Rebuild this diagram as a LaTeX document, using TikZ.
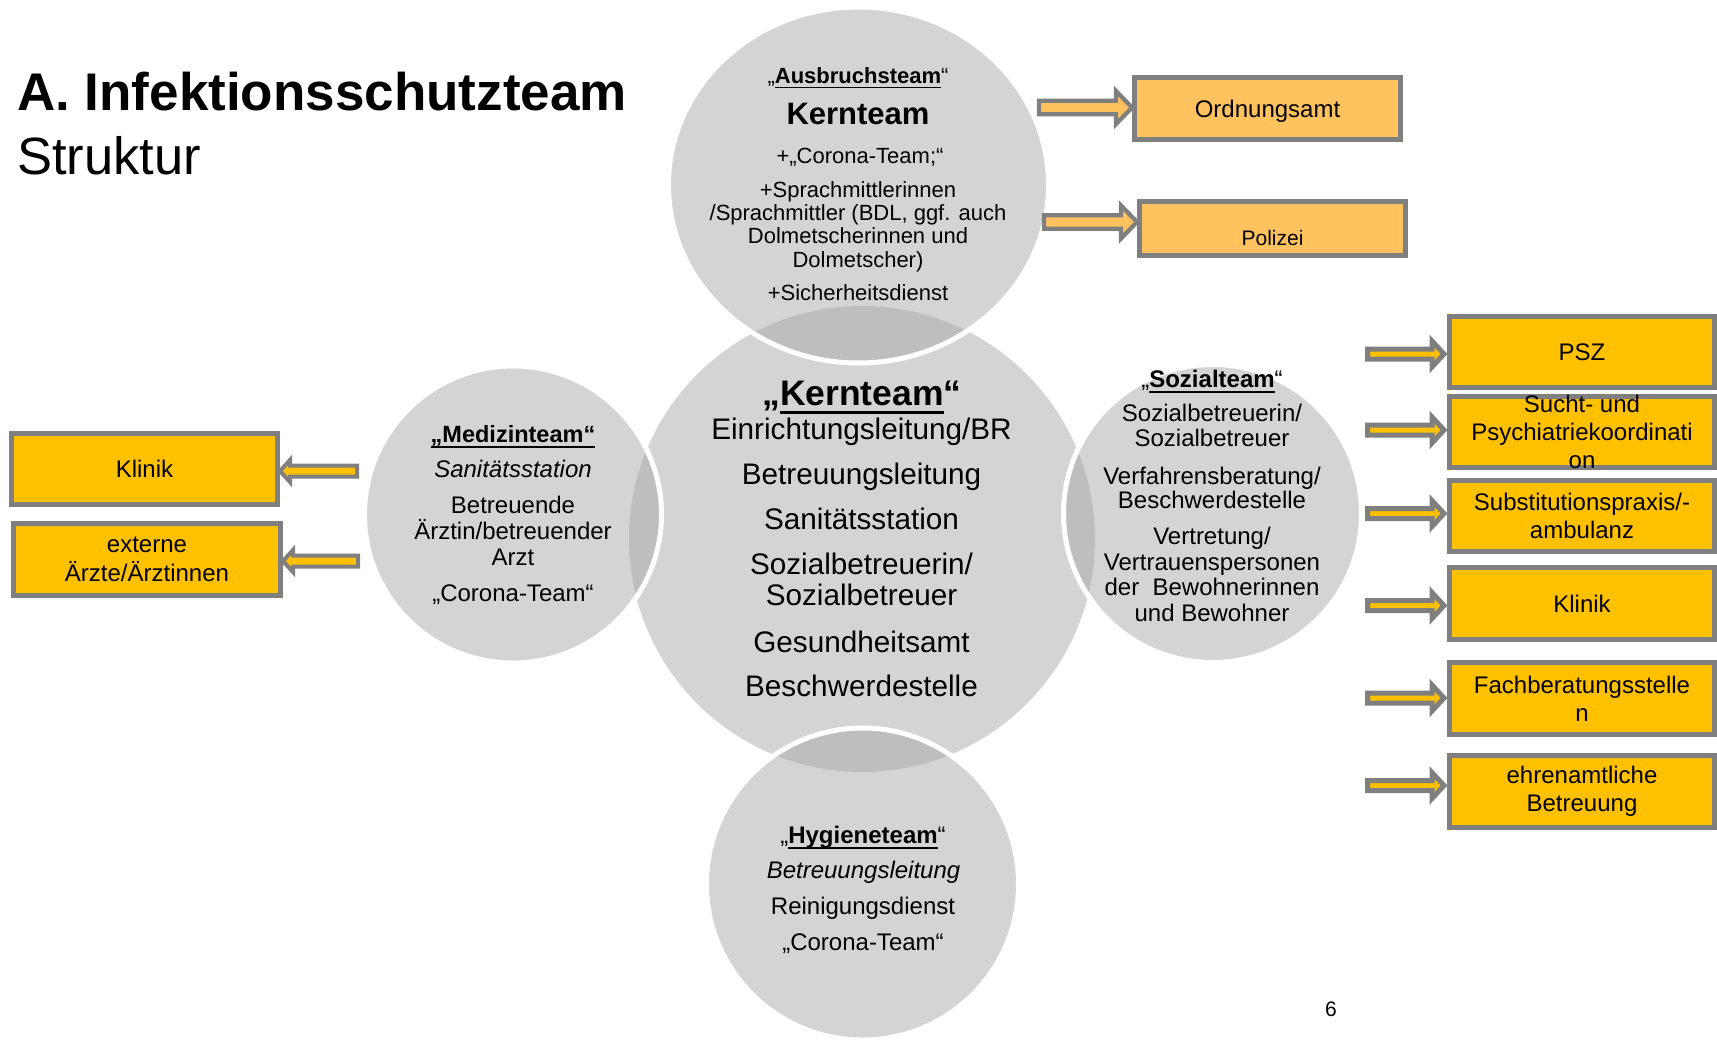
\documentclass[tikz,border=0pt]{standalone}
\usepackage{fontspec}
\setmainfont{Liberation Sans}
\usetikzlibrary{calc}
\definecolor{cgray}{RGB}{212,212,212}
\definecolor{ogray}{RGB}{190,190,190}
\definecolor{bgray}{RGB}{127,127,127}
\definecolor{gold}{RGB}{255,192,0}
\definecolor{lorange}{RGB}{255,194,94}
\newcommand\setfs[2]{\fontsize{#1}{#2}\selectfont}
\newsavebox\ulbox
\newcommand\myul[1]{\sbox\ulbox{#1}\rlap{\rule[-0.24em]{\wd\ulbox}{0.08em}}\usebox\ulbox}
% style, tail, tip, shaft half, head half, head length, operator (- for rightwards, + for leftwards)
\newcommand\blkarrow[7]{%
  \draw[#1] let \p1=(#2), \p2=(#3) in
    (\x1,\y1+#4) -- (\x2#7#6,\y1+#4) -- (\x2#7#6,\y1+#5) -- (\x2,\y1) --
    (\x2#7#6,\y1-#5) -- (\x2#7#6,\y1-#4) -- (\x1,\y1-#4) -- cycle;}
\begin{document}
\begin{tikzpicture}[x=1pt,y=-1pt,
  tx/.style={anchor=base,inner sep=0pt,align=center},
  boxA/.style={draw=bgray,line width=5pt,fill=lorange,minimum width=266pt,inner sep=0pt,align=center,font=\setfs{24}{27.5}},
  boxR/.style={draw=bgray,line width=5pt,fill=gold,minimum width=265pt,minimum height=71pt,inner sep=0pt,align=center,font=\setfs{24}{28.2}},
  boxL/.style={draw=bgray,line width=5pt,fill=gold,inner sep=0pt,align=center,font=\setfs{24}{29}},
  arrA/.style={draw=bgray,line width=4.3pt,fill=lorange,line join=miter,miter limit=10},
  arrR/.style={draw=bgray,line width=5pt,fill=gold,line join=miter,miter limit=10},
  arrL/.style={draw=bgray,line width=4pt,fill=gold,line join=miter,miter limit=10},
  sep/.style={white,line width=5pt}]
\path[use as bounding box] (0,0) rectangle (1717,1045);
\clip (0,0) rectangle (1717,1045);

% ---------- circles ----------
\coordinate (cK) at (862,539);
\coordinate (cA) at (858.5,185);
\coordinate (cM) at (513,514.5);
\coordinate (cS) at (1212.5,513.5);
\coordinate (cH) at (862.5,884);

\fill[cgray] (cK) circle (233pt);

\fill[cgray] (cA) ellipse [x radius=190pt,y radius=178pt];
\begin{scope}\clip (cK) circle (233pt);
  \fill[ogray] (cA) ellipse [x radius=190pt,y radius=178pt];\end{scope}
\draw[sep] (cA) ellipse [x radius=190pt,y radius=178pt];

\fill[cgray] (cM) circle (148.5pt);
\begin{scope}\clip (cK) circle (233pt);
  \fill[ogray] (cM) circle (148.5pt);\end{scope}
\draw[sep] (cM) circle (148.5pt);

\fill[cgray] (cS) circle (149pt);
\begin{scope}\clip (cK) circle (233pt);
  \fill[ogray] (cS) circle (149pt);\end{scope}
\draw[sep] (cS) circle (149pt);

\fill[cgray] (cH) circle (156pt);
\begin{scope}\clip (cK) circle (233pt);
  \fill[ogray] (cH) circle (156pt);\end{scope}
\draw[sep] (cH) circle (156pt);

% ---------- title ----------
\node[tx,anchor=base west,font=\setfs{53}{60}\bfseries] (title) at (17,110) {A. Infektionsschutzteam};
\node[tx,anchor=base west,font=\setfs{52.5}{60}] (subtitle) at (17,174) {Struktur};
\node[tx,font=\setfs{21}{25}] (pagenum) at (1331,1016) {6};

% ---------- Ausbruchsteam ----------
\node[tx,font=\setfs{22}{26}] (a1) at (858,83) {„\myul{\textbf{Ausbruchsteam}}“};
\node[tx,font=\setfs{31}{36}\bfseries] (a2) at (858,124) {Kernteam};
\node[tx,font=\setfs{22}{26}] (a3) at (860,163) {+„Corona-Team;“};
\node[tx,font=\setfs{22}{26}] (a4) at (858,197) {+Sprachmittlerinnen};
\node[tx,font=\setfs{22}{26}] (a5) at (858,220) {/Sprachmittler (BDL, ggf. auch};
\node[tx,font=\setfs{22}{26}] (a6) at (858,243) {Dolmetscherinnen und};
\node[tx,font=\setfs{22}{26}] (a7) at (858,267) {Dolmetscher)};
\node[tx,font=\setfs{22}{26}] (a8) at (858,300) {+Sicherheitsdienst};

% ---------- Kernteam ----------
\node[tx,font=\setfs{35.5}{40}\bfseries] (k1) at (862,405) {„\myul{Kernteam}“};
\node[tx,font=\setfs{29.7}{34}] (k2) at (861.5,439) {Einrichtungsleitung/BR};
\node[tx,font=\setfs{29.7}{34}] (k3) at (861.5,484) {Betreuungsleitung};
\node[tx,font=\setfs{29.7}{34}] (k4) at (861.5,529) {Sanitätsstation};
\node[tx,font=\setfs{29.7}{34}] (k5) at (861.5,574) {Sozialbetreuerin/};
\node[tx,font=\setfs{29.7}{34}] (k6) at (861.5,605) {Sozialbetreuer};
\node[tx,font=\setfs{29.7}{34}] (k7) at (861.5,652) {Gesundheitsamt};
\node[tx,font=\setfs{29.7}{34}] (k8) at (861.5,696) {Beschwerdestelle};

% ---------- Medizinteam ----------
\node[tx,font=\setfs{23.5}{28}\bfseries] (m1) at (513,442) {\myul{„Medizinteam“}};
\node[tx,font=\setfs{24}{28}\itshape] (m2) at (513,477) {Sanitätsstation};
\node[tx,font=\setfs{24}{28}] (m3) at (513,513) {Betreuende};
\node[tx,font=\setfs{24}{28}] (m4) at (513,539) {Ärztin/betreuender};
\node[tx,font=\setfs{24}{28}] (m5) at (513,565) {Arzt};
\node[tx,font=\setfs{24}{28}] (m6) at (513,601) {„Corona-Team“};

% ---------- Sozialteam ----------
\node[tx,font=\setfs{24}{28}] (s1) at (1212,387) {„\myul{\textbf{Sozialteam}}“};
\node[tx,font=\setfs{24}{28}] (s2) at (1212,421) {Sozialbetreuerin/};
\node[tx,font=\setfs{24}{28}] (s3) at (1212,446) {Sozialbetreuer};
\node[tx,font=\setfs{24}{28}] (s4) at (1212,484) {Verfahrensberatung/};
\node[tx,font=\setfs{24}{28}] (s5) at (1212,508) {Beschwerdestelle};
\node[tx,font=\setfs{24}{28}] (s6) at (1212,544) {Vertretung/};
\node[tx,font=\setfs{24}{28}] (s7) at (1212,570) {Vertrauenspersonen};
\node[tx,font=\setfs{24}{28}] (s8) at (1212,595) {der~~Bewohnerinnen};
\node[tx,font=\setfs{24}{28}] (s9) at (1212,621) {und Bewohner};

% ---------- Hygieneteam ----------
\node[tx,font=\setfs{24}{28}] (h1) at (863,843) {„\myul{\textbf{Hygieneteam}}“};
\node[tx,font=\setfs{24}{28}\itshape] (h2) at (863.5,878) {Betreuungsleitung};
\node[tx,font=\setfs{24}{28}] (h3) at (863,914) {Reinigungsdienst};
\node[tx,font=\setfs{24}{28}] (h4) at (863,950) {„Corona-Team“};

% ---------- boxes ----------
\node[boxA,minimum height=62pt,text depth=0pt] (ordnung) at (1267.5,108.5) {Ordnungsamt};
\node[boxA,minimum height=54pt,font=\setfs{21}{25}] (polizei) at (1272.5,228.5) {\raisebox{-16.5pt}[0pt][0pt]{Polizei}};

\node[boxR] (psz) at (1582,352) {PSZ};
\node[boxR,inner ysep=-1.5pt] (sucht) at (1582,432) {Sucht- und\\Psychiatriekoordinati\\on};
\node[boxR] (subst) at (1582,516) {Substitutionspraxis/-\\ambulanz};
\node[boxR,minimum height=72pt] (klinikR) at (1582,603.5) {Klinik};
\node[boxR,minimum height=72pt] (fach) at (1582,698.5) {Fachberatungsstelle\\n};
\node[boxR,minimum height=72pt] (ehren) at (1582,791.5) {ehrenamtliche\\Betreuung};

\node[boxL,minimum width=266pt,minimum height=71pt] (klinikL) at (144.5,469) {Klinik};
\node[boxL,minimum width=267pt,minimum height=72pt] (ext) at (147,559.5) {externe\\Ärzte/Ärztinnen};

% ---------- arrows ----------
\coordinate (tO) at (1039,107.5);
\coordinate (tP) at (1044,222);
\blkarrow{arrA}{tO}{ordnung.west}{6.7}{16.5}{16}{-}
\blkarrow{arrA}{tP}{polizei.west}{6.7}{16.5}{16}{-}

\coordinate (r1) at (1367.5,354);
\coordinate (r2) at (1367.5,430);
\coordinate (r3) at (1367.5,513.5);
\coordinate (r4) at (1367.5,605.5);
\coordinate (r5) at (1367.5,698);
\coordinate (r6) at (1367.5,785.5);
\blkarrow{arrR}{r1}{$(psz.west)+(-3,0)$}{5}{13}{12}{-}
\blkarrow{arrR}{r2}{$(sucht.west)+(-3,0)$}{5}{13}{12}{-}
\blkarrow{arrR}{r3}{$(subst.west)+(-3,0)$}{5}{13}{12}{-}
\blkarrow{arrR}{r4}{$(klinikR.west)+(-3,0)$}{5}{13}{12}{-}
\blkarrow{arrR}{r5}{$(fach.west)+(-3,0)$}{5}{13}{12}{-}
\blkarrow{arrR}{r6}{$(ehren.west)+(-3,0)$}{5}{13}{12}{-}

\coordinate (l1) at (357,471);
\coordinate (l2) at (358,561);
\blkarrow{arrL}{l1}{klinikL.east}{5.5}{11}{10}{+}
\blkarrow{arrL}{l2}{ext.east}{5.5}{11}{10}{+}
\end{tikzpicture}
\end{document}
